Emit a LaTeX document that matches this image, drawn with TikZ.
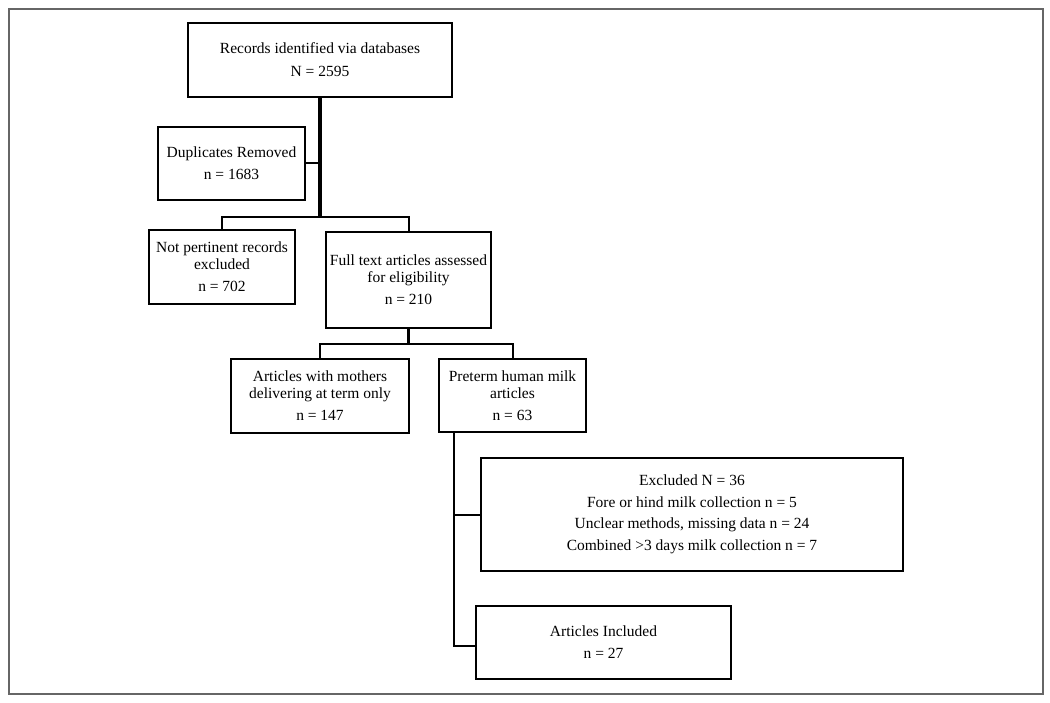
\documentclass[tikz,border=0pt]{standalone}
\usepackage{fontspec}
\setmainfont{Liberation Serif}
\begin{document}
\begin{tikzpicture}[x=1pt,y=-1pt,
  box/.style={draw=black,line width=2pt,rectangle,inner sep=0pt,align=center,
    font=\fontsize{15.5}{17}\selectfont},
  thin/.style={line width=2pt},
  thick/.style={line width=3.2pt}]
\useasboundingbox (0,0) rectangle (1050,703);
\draw[gray!80!black,line width=1.2pt] (9,9) rectangle (1043,694);
\node[box,minimum width=264pt,minimum height=74pt] (rec) at (320,60)
  {Records identified via databases\\[6pt]N = 2595};
\node[box,minimum width=147pt,minimum height=73pt] (dup) at (231.5,163.5)
  {Duplicates Removed\\[5pt]n = 1683};
\node[box,minimum width=146pt,minimum height=74pt] (notp) at (222,267)
  {Not pertinent records\\excluded\\[5pt]n = 702};
\node[box,minimum width=165pt,minimum height=96pt] (full) at (408.5,280)
  {Full text articles assessed\\for eligibility\\[5pt]n = 210};
\node[box,minimum width=178pt,minimum height=74pt] (moth) at (320,396)
  {Articles with mothers\\delivering at term only\\[5pt]n = 147};
\node[box,minimum width=147pt,minimum height=73pt] (pre) at (512.5,395.5)
  {Preterm human milk\\articles\\[5pt]n = 63};
\node[box,minimum width=422pt,minimum height=113pt] (excl) at (692,514.5)
  {Excluded N = 36\\[4.5pt]Fore or hind milk collection n = 5\\[4.5pt]Unclear methods, missing data n = 24\\[4.5pt]Combined {>}3 days milk collection n = 7};
\node[box,minimum width=255pt,minimum height=73pt] (incl) at (603.5,642.5)
  {Articles Included\\[5pt]n = 27};
\coordinate (j1) at (rec.south |- 0,217);
\coordinate (j2) at (full.south |- 0,344);
\coordinate (j3) at (454,646);
\draw[thick] (rec.south) -- (j1);
\draw[thin] (dup.east) -- (dup.east -| rec.south);
\draw[thin] (notp.north) |- (j1) -| (full.north);
\draw[thick] (full.south) -- (j2);
\draw[thin] (moth.north) |- (j2) -| (pre.north);
\draw[thin] (pre.south -| j3) -- (j3) -- (incl.west |- j3);
\draw[thin] (excl.west) -- (excl.west -| j3);
\end{tikzpicture}
\end{document}
